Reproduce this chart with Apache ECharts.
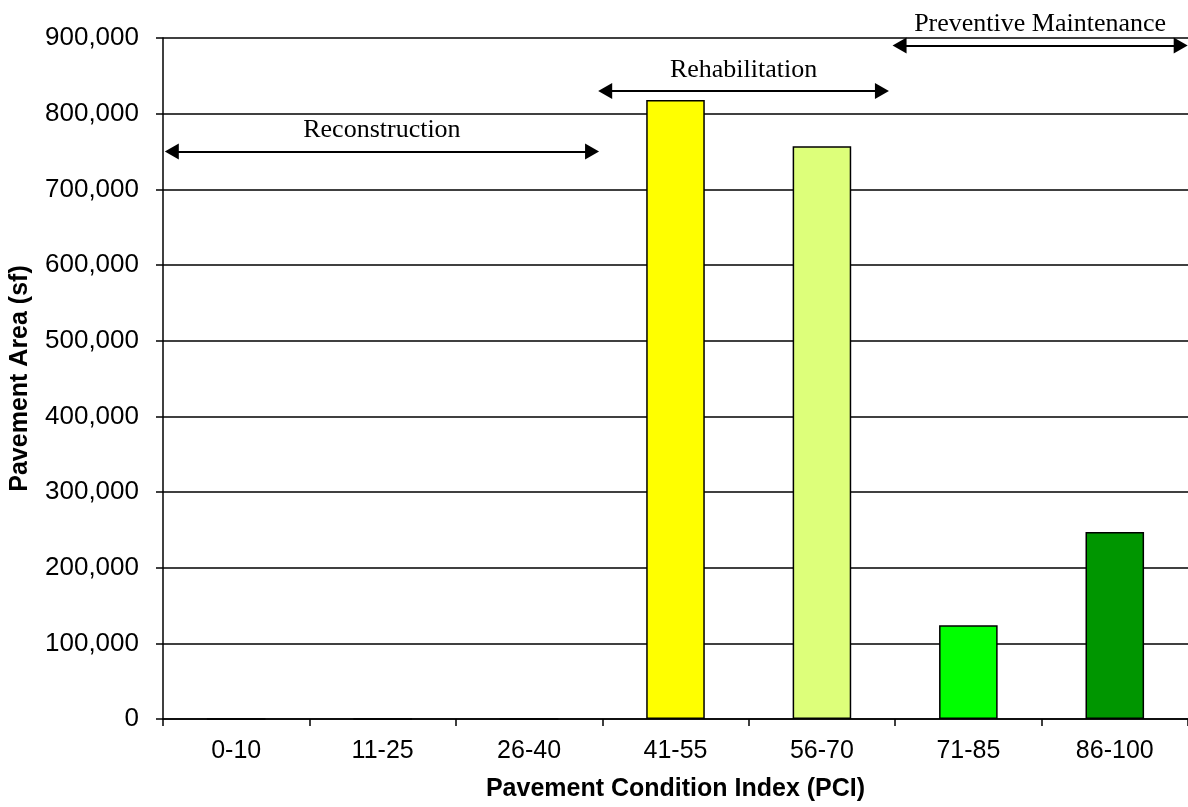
<!DOCTYPE html>
<html>
<head>
<meta charset="utf-8">
<script src="https://cdn.jsdelivr.net/npm/echarts@6/dist/echarts.min.js"></script>
<style>html,body{margin:0;padding:0;background:#fff;}#c{width:1188px;height:807px;}</style>
</head>
<body>
<div id="c"></div>
<script>
const categories = ['0-10', '11-25', '26-40', '41-55', '56-70', '71-85', '86-100'];
const areaValues = [0, 0, 0, 818000, 757000, 124000, 247000];
const barColors = ['#FFFF00', '#FFFF00', '#FFFF00', '#FFFF00', '#DDFF7A', '#00FF00', '#009600'];
const yTicks = { min: 0, max: 900000, interval: 100000 };
// treatment ranges (in category units along the x axis) and the height of each arrow
const treatmentLabels = ['Reconstruction', 'Rehabilitation', 'Preventive Maintenance'];
const treatmentStart = [0.06, 3.02, 5.03];
const treatmentEnd = [2.93, 4.91, 6.95];
const treatmentLevel = [750000, 830000, 890000];

const chart = echarts.init(document.getElementById('c'));
const fmt = v => v.toString().replace(/\B(?=(\d{3})+(?!\d))/g, ',');
chart.setOption({
  animation: false,
  backgroundColor: '#fff',
  grid: { left: 160, right: 0, top: 38, bottom: 88 },
  xAxis: [{
    type: 'category',
    data: categories,
    name: 'Pavement Condition Index (PCI)',
    nameLocation: 'middle',
    nameGap: 58,
    nameTextStyle: { fontFamily: 'Liberation Sans', fontWeight: 'bold', fontSize: 25, color: '#000' },
    axisLine: { lineStyle: { color: '#000', width: 1.5 } },
    axisTick: { show: true, length: 7, lineStyle: { color: '#000', width: 1.5 } },
    axisLabel: { fontFamily: 'Liberation Sans', fontSize: 25, color: '#000', margin: 20 },
    splitLine: { show: false }
  }, {
    type: 'value', min: 0, max: 7, show: false
  }],
  yAxis: {
    type: 'value',
    min: yTicks.min, max: yTicks.max, interval: yTicks.interval,
    name: 'Pavement Area (sf)',
    nameLocation: 'middle',
    nameGap: 130,
    nameTextStyle: { fontFamily: 'Liberation Sans', fontWeight: 'bold', fontSize: 25, color: '#000' },
    axisLine: { show: true, lineStyle: { color: '#000', width: 1.5 } },
    axisTick: { show: true, length: 7, lineStyle: { color: '#000', width: 1.5 } },
    axisLabel: { fontFamily: 'Liberation Sans', fontSize: 26, color: '#000', margin: 24, formatter: fmt },
    splitLine: { show: true, lineStyle: { color: '#000', width: 1.5 } }
  },
  series: [{
    type: 'bar',
    data: areaValues.map((v, i) => ({ value: v, itemStyle: { color: barColors[i] } })),
    barWidth: '40%',
    itemStyle: { borderColor: '#000', borderWidth: 1.5 }
  }, {
    type: 'line',
    xAxisIndex: 1,
    yAxisIndex: 0,
    data: [],
    silent: true,
    markLine: {
      silent: true,
      symbol: ['triangle', 'triangle'],
      symbolSize: [16, 14],
      lineStyle: { color: '#000', width: 2, type: 'solid' },
      label: { show: true, position: 'middle', distance: 8, fontFamily: 'Liberation Serif', fontSize: 26, color: '#000', formatter: p => p.name },
      data: treatmentLabels.map((n, i) => [
        { name: n, coord: [treatmentStart[i], treatmentLevel[i]] },
        { coord: [treatmentEnd[i], treatmentLevel[i]] }
      ])
    }
  }]
});
</script>
</body>
</html>
